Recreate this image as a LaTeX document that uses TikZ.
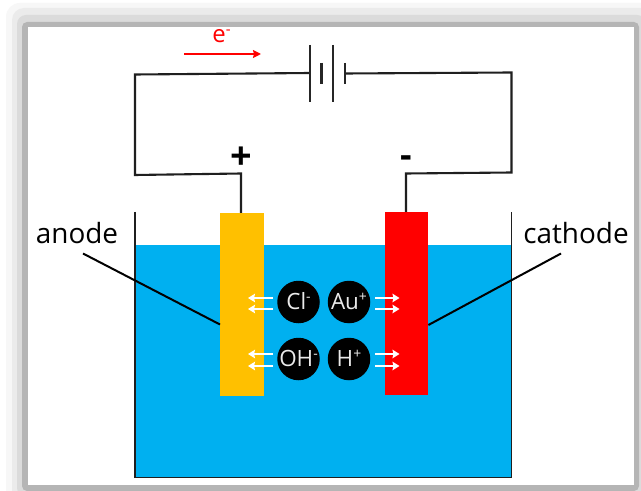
\documentclass[tikz,border=0pt]{standalone}
\usepackage{fontspec}
\setmainfont{Open Sans}
\usetikzlibrary{arrows.meta}
\definecolor{water}{RGB}{0,176,240}
\definecolor{gold}{RGB}{255,192,0}
\newcommand{\ionsup}[1]{\raisebox{.6ex}{\fontsize{14}{14}\selectfont #1}}
\tikzset{
  wire/.style={draw=black!88,line width=2.1bp,line join=miter},
  plate/.style={draw=black!85,line width=2.2bp},
  pointer/.style={draw=black,line width=2bp},
  ion/.style={circle,fill=black,minimum size=42.5bp,inner sep=0pt,text=white!92!black,text height=14bp,text depth=0pt,font=\fontsize{22.5}{22.5}\selectfont},
  lab/.style={inner sep=0pt,font=\fontsize{28}{28}\selectfont,text=black},
  flow/.style={draw=white,line width=2.5bp,-{Stealth[length=7bp,width=8.5bp,inset=1bp]}},
  elec/.style={draw=red,line width=2bp,-{Stealth[length=8bp,width=8bp,inset=1bp]}}
}
\begin{document}
\begin{tikzpicture}[x=1bp,y=-1bp]
\useasboundingbox (0,0) rectangle (641,491);
\fill[white] (0,0) rectangle (641,491);
% soft frame shadow
\fill[black!3,rounded corners=14bp] (6,3) rectangle (660,510);
\fill[black!8,rounded corners=12bp] (12,8) rectangle (652,502);
\fill[black!14,rounded corners=9bp] (17,15) rectangle (646,497);
\fill[black!29,rounded corners=5bp] (22,22) rectangle (639,491);
\fill[white] (28,27) rectangle (634,485);
% tank water
\fill[water] (135,245) rectangle (511.5,477);
\coordinate (tl) at (135,212);
\coordinate (bl) at (135,477.5);
\coordinate (br) at (511.5,477.5);
\coordinate (tr) at (511.5,212);
\draw[wire,line width=1.8bp] (tl) -- (bl) -- (br) -- (tr);
% electrodes
\node[fill=gold,minimum width=44bp,minimum height=183bp,inner sep=0pt,anchor=north west] (an) at (220,213) {};
\node[fill=red,minimum width=43bp,minimum height=182.5bp,inner sep=0pt,anchor=north west] (ca) at (385,212) {};
% wires
\coordinate (b1) at (310,73);
\coordinate (b2) at (345,73.5);
\coordinate (c1) at (135,74.5);
\coordinate (c2) at (135,175);
\coordinate (c3) at (241,173.5);
\coordinate (c4) at (511.5,72.5);
\coordinate (c5) at (511.5,172.5);
\coordinate (c6) at (406,173.5);
\draw[wire] (b1) -- (c1) -- (c2) -- (c3) -- (c3 |- an.north);
\draw[wire] (b2) -- (c4) -- (c5) -- (c6) -- (c6 |- ca.north);
% battery
\draw[plate] (310,45) -- (310,102);
\draw[plate] (321.5,63) -- (321.5,84);
\draw[plate] (333,45) -- (333,102);
\draw[plate] (345,63) -- (345,84);
% electron
\node[text=red,inner sep=0pt,font=\fontsize{24}{24}\selectfont] (e) at (221.5,36) {e\raisebox{.6ex}{\fontsize{15}{15}\selectfont -}};
\coordinate (e1) at (184,54); \coordinate (e2) at (261,54);
\draw[elec] (e1) -- (e2);
% signs
\node[inner sep=0pt,font=\bfseries\fontsize{38}{38}\selectfont] (plus) at (241,158.5) {+};
\node[inner sep=0pt,font=\bfseries\fontsize{36}{36}\selectfont] (minus) at (406.5,161.5) {-};
% labels
\node[lab] (alab) at (77,233) {anode};
\node[lab] (clab) at (576,233) {cathode};
\coordinate (ap) at (83,253.5);
\coordinate (cp) at (561,253.5);
\draw[pointer] (ap) -- (an.west |- 0,324.5);
\draw[pointer] (cp) -- (ca.east |- 0,325);
% ions
\node[ion] (cl) at (298.5,302) {Cl\ionsup{-}};
\node[ion] (au) at (349,302) {Au\ionsup{+}};
\node[ion] (oh) at (298.5,359) {OH\ionsup{-}};
\node[ion] (h) at (349,359) {H\ionsup{+}};
% flows
\foreach \n/\y in {a/298,b/309,c/354,d/366}{
  \coordinate (l\n) at (273,\y); \coordinate (L\n) at (248,\y);
  \coordinate (r\n) at (375,\y); \coordinate (R\n) at (399.5,\y);
  \draw[flow] (l\n) -- (L\n);
  \draw[flow] (r\n) -- (R\n);
}
\end{tikzpicture}
\end{document}
